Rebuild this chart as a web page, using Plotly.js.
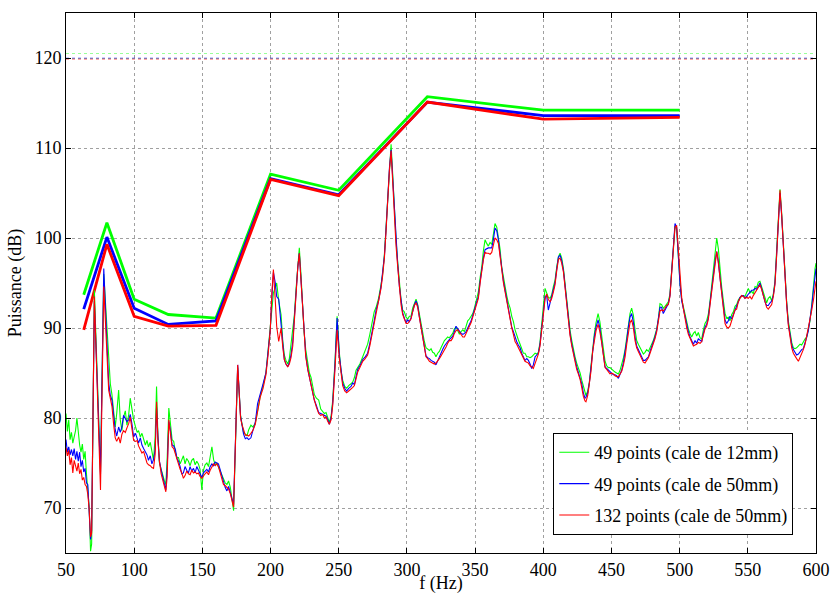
<!DOCTYPE html>
<html>
<head>
<meta charset="utf-8">
<script src="https://cdn.plot.ly/plotly-3.0.1.min.js"></script>
<style>html,body{margin:0;padding:0;background:#fff;}#chart{width:832px;height:594px;}</style>
</head>
<body>
<div id="chart"></div>
<script>
// Third-octave band centres and band levels
const bandCentres = [63, 80, 100, 125, 160, 200, 250, 315, 400, 500];
const bandGreen = [93.7, 101.7, 93.2, 91.5, 91.1, 107.1, 105.3, 115.7, 114.2, 114.2];
const bandBlue  = [92.1, 100.1, 92.2, 90.4, 90.8, 106.6, 104.8, 115.1, 113.6, 113.6];
const bandRed   = [89.8, 99.3, 91.3, 90.2, 90.3, 106.5, 104.7, 115.1, 113.2, 113.4];

// Global levels (dotted lines)
const levelSpan = [50, 600];
const levelGreen = 120.5;
const levelBlue = 120.0;
const levelRed = 119.85;

// Narrow-band spectrum
const freq = [
50,51,52,53,54,55,56,57,58,59,
60,61,62,63,64,65,66,67,68,68.8,
70.8,75.3,77.7,
81.3,82.5,83.7,85.0,86.1,87.2,88.6,89.8,91.0,92.2,
93.5,94.7,96.0,97.1,98.3,99.6,101.0,102.2,103.2,104.5,
105.7,106.9,108.2,109.4,110.5,111.8,113.0,114.2,115.4,
116.4,117.4,118.5,119.8,121.0,122.2,123.2,124.2,125.4,126.6,
127.8,129.0,130.2,131.4,132.5,133.7,134.9,136.1,137.3,138.5,
139.8,141.0,142.2,143.5,144.7,145.9,147.1,148.3,149.6,150.8,
152.0,153.3,154.5,155.7,157.0,158.2,159.4,160.6,161.8,163.0,
164.3,165.5,166.7,168.0,169.2,170.5,171.7,172.9,
175.9,177.0,178.0,179.0,180.2,181.5,182.7,184.0,185.6,187.0,
188.8,190.5,192.4,194.5,196.6,198.2,199.8,
201.0,202.1,203.5,204.5,206.0,207.7,209.0,210.1,211.3,212.6,
213.8,215.0,216.3,217.5,218.8,220.0,221.1,222.3,223.4,224.6,
225.8,227.3,228.5,229.7,230.9,232.1,233.6,235.3,236.8,238.3,
239.5,240.7,242.0,243.1,244.4,245.6,247.3,248.8,250.5,251.7,
252.9,254.4,255.8,257.3,259.0,260.3,261.5,262.7,263.9,265.5,
267.6,269.4,271.2,272.8,274.4,276.0,277.4,279.2,281.0,282.2,
283.5,284.7,285.9,287.2,288.4,289.6,290.8,292.0,293.2,294.5,
295.7,296.9,298.1,299.4,300.6,301.8,303.0,304.2,305.5,306.7,
307.9,309.1,310.3,311.6,312.8,314.0,315.2,316.5,317.7,318.9,
320.1,321.3,322.6,323.8,325.0,326.2,327.5,328.7,329.9,331.1,
332.4,333.6,334.8,336.0,337.3,338.5,339.7,341.0,342.2,343.4,
344.6,345.8,
347.1,348.3,349.5,350.8,352.4,353.7,354.9,356.1,357.3,358.5,
359.7,361.0,362.2,363.4,364.6,365.9,367.1,368.3,369.5,370.8,
372.0,373.2,374.4,375.7,376.9,378.1,379.3,380.5,381.7,383.0,
384.2,385.4,386.6,387.9,389.1,390.3,391.5,392.7,394.0,395.2,
396.4,397.6,398.9,400.1,401.3,402.5,403.7,405.0,406.2,407.4,
408.6,409.9,411.1,412.3,413.5,414.8,416.0,417.2,418.4,419.6,
420.9,422.1,423.3,424.5,425.7,427.0,428.2,429.4,430.6,431.3,
432.6,433.8,435.0,436.2,437.4,438.7,440.2,441.5,442.8,444.0,
445.3,446.5,447.7,448.9,450.2,451.4,452.6,453.8,455.1,456.3,
457.5,458.8,460.0,461.2,462.4,463.6,464.8,466.1,467.3,468.5,
469.7,470.9,472.2,473.4,474.6,475.8,477.1,478.3,479.5,480.7,
481.9,483.2,484.4,485.6,486.8,488.0,489.3,490.5,491.7,492.9,
494.2,495.4,496.6,497.8,499.0,500.3,501.5,502.7,503.9,505.2,
506.4,507.6,508.8,510.1,511.3,512.5,513.7,515.0,516.2,517.4,
518.6,519.8,521.1,522.3,523.5,524.7,525.9,527.2,528.4,529.6,
530.8,532.1,533.3,534.5,535.7,536.9,538.2,539.4,540.6,541.8,
543.0,544.3,545.5,546.7,547.9,549.1,550.4,551.6,552.8,554.0,
555.3,556.5,557.7,558.9,560.1,561.4,562.6,563.8,565.0,566.3,
567.5,568.7,569.9,571.2,572.4,573.6,574.8,576.0,577.3,578.5,
579.7,580.9,582.2,583.4,584.6,585.8,587.1,588.3,589.5,590.7,
592.0,593.2,594.4,595.6,596.9,598.1,599.3,600.0
];

const specGreen = [
80.5,78.5,79.8,77.6,78.4,77.2,77.9,78.6,80.0,78.1,
77.0,76.2,77.1,75.4,76.3,73.8,72.0,70.1,65.2,66.0,
94.2,74.0,96.0,
85.7,83.8,82.6,80.8,79.0,80.5,83.1,79.8,78.6,80.1,
80.8,79.2,80.4,82.2,80.9,79.8,79.0,78.4,78.6,77.9,
78.3,77.6,77.0,77.5,76.8,77.3,76.0,75.3,78.0,
83.5,78.0,75.0,74.3,73.5,73.0,72.6,75.5,81.1,79.5,
77.6,77.4,76.2,75.6,75.6,74.9,75.4,75.8,74.9,75.5,
75.2,74.7,75.3,75.5,74.8,75.2,74.9,74.3,72.0,74.2,
74.8,75.0,74.6,75.5,76.8,75.4,74.8,75.0,74.6,74.1,
73.8,73.3,72.8,72.6,73.0,72.3,71.2,69.7,
85.6,82.5,80.3,79.4,78.4,78.2,78.0,78.7,79.2,79.0,
79.4,80.8,82.4,83.6,85.0,87.5,90.0,
92.5,93.9,94.5,95.0,93.0,91.5,88.5,87.0,86.4,86.0,
86.6,88.0,89.5,91.5,94.5,97.0,98.9,96.0,92.5,89.5,
87.6,85.8,85.0,84.5,83.4,82.6,82.2,82.0,81.0,80.7,
80.5,80.6,80.1,79.5,80.2,82.0,86.4,91.3,87.2,85.2,
84.2,83.5,83.3,83.6,83.8,84.0,84.5,85.3,85.6,86.0,
86.8,87.4,88.2,89.3,90.8,91.8,92.3,93.3,94.8,96.0,
98.2,101.0,104.8,108.0,110.4,107.0,103.2,99.8,97.4,94.8,
93.1,92.0,91.8,91.2,91.0,91.3,91.3,92.2,92.8,93.2,
92.6,91.5,90.4,89.3,88.5,87.8,87.6,87.5,87.7,87.3,
87.2,86.8,87.2,87.4,87.8,88.3,88.6,88.8,89.0,88.9,
89.1,89.4,89.9,90.1,89.7,89.3,89.6,89.8,89.6,90.1,
90.8,91.0,
91.3,91.6,92.2,93.0,94.0,95.6,96.8,98.6,99.8,99.4,
99.1,99.5,99.3,100.4,101.6,101.2,100.2,98.8,96.8,95.5,
94.6,93.6,92.8,92.2,91.3,90.7,89.8,89.1,88.7,88.2,
87.6,87.2,87.2,86.8,86.8,86.7,86.8,87.0,87.2,87.1,
87.3,88.4,90.4,92.4,94.4,93.9,93.4,93.3,93.7,94.6,
95.3,96.8,97.9,98.3,97.8,96.6,94.8,93.0,91.2,89.8,
88.6,87.6,86.8,86.1,85.6,85.0,84.2,83.5,82.9,82.5,
83.0,84.0,85.8,88.0,89.3,90.6,91.6,90.7,89.2,87.6,
86.3,85.8,85.6,85.6,85.4,85.2,85.1,85.0,84.9,85.3,
85.9,86.7,87.6,88.9,90.5,91.6,92.2,91.4,89.8,88.6,
88.2,87.8,87.3,87.1,87.3,87.6,87.4,87.8,88.2,88.6,
89.2,89.9,91.0,92.7,92.6,92.2,92.4,92.6,92.9,93.8,
96.6,99.0,101.3,101.0,97.8,95.0,93.2,92.4,91.4,90.5,
89.9,89.4,89.0,89.4,89.6,89.1,89.5,88.9,88.8,89.8,
90.5,90.8,91.6,93.0,94.6,96.2,98.0,100.0,98.8,96.4,
94.6,93.0,91.6,91.1,91.2,90.8,91.5,91.8,92.4,92.6,
93.1,93.4,93.5,93.6,93.5,93.9,94.4,93.9,94.1,93.8,
94.6,94.5,95.1,95.2,94.6,93.9,93.4,92.8,93.3,93.5,
93.0,93.8,95.2,98.6,102.5,105.4,102.8,99.4,95.6,92.9,
90.8,89.4,88.4,87.8,87.7,87.8,88.0,88.2,88.1,88.5,
88.8,89.0,89.8,90.8,92.6,94.8,96.6,97.2
];

const specBlue = [
77.6,76.2,76.8,75.9,76.5,75.8,76.6,75.4,76.3,75.2,
76.2,74.6,75.3,74.0,74.4,72.8,72.6,69.2,66.5,67.5,
93.0,73.7,96.6,
83.9,82.5,82.0,80.2,78.7,78.0,79.0,78.4,79.0,80.3,
80.0,79.6,79.8,80.4,79.4,77.9,78.3,77.6,77.2,77.8,
77.0,76.6,76.3,75.9,75.3,75.8,74.9,75.4,76.5,
81.2,78.0,75.2,74.2,73.4,72.6,72.0,74.5,79.6,78.6,
77.0,76.9,76.5,75.5,75.2,74.6,73.8,73.9,74.6,74.2,
73.9,74.6,74.1,74.4,73.9,74.6,74.2,73.8,73.4,73.9,
74.1,74.3,74.0,74.6,74.9,74.7,75.1,75.0,74.9,74.3,
73.6,72.9,72.3,71.9,72.4,71.7,71.0,70.4,
85.9,82.6,80.2,79.3,78.2,77.7,77.8,77.6,77.8,78.6,
79.5,81.6,82.8,83.8,85.0,87.5,89.8,
93.5,96.2,95.0,93.5,93.2,90.6,88.0,86.5,86.0,85.7,
86.2,87.0,88.5,91.3,94.0,96.8,98.3,95.5,92.0,89.2,
87.0,85.4,84.6,83.9,83.0,82.0,81.4,80.6,80.5,80.4,
80.3,80.2,79.8,79.3,80.0,81.7,86.1,91.1,86.9,85.0,
83.9,83.3,83.0,83.3,83.5,83.9,83.7,84.6,85.4,85.8,
86.5,86.8,87.2,88.3,89.4,90.8,92.0,93.0,94.6,96.0,
98.0,101.0,104.6,107.8,109.8,106.5,102.8,99.5,97.2,94.6,
92.8,91.7,91.1,90.6,90.9,90.7,91.1,91.9,92.6,93.0,
92.5,91.3,90.2,89.1,88.0,86.9,86.7,86.6,86.4,86.3,
86.2,85.9,86.4,86.9,87.3,87.6,88.0,88.3,88.5,88.7,
88.9,89.1,89.6,90.2,89.9,89.6,89.4,89.3,89.4,89.6,
90.1,90.4,
90.8,91.4,92.0,92.8,93.5,95.2,96.6,97.8,98.7,98.8,
98.9,98.9,98.9,99.8,101.1,100.8,99.8,98.2,96.4,95.2,
94.2,93.1,92.0,91.0,90.1,89.6,88.9,88.5,88.1,87.8,
87.2,86.7,86.4,86.6,86.4,86.0,85.5,85.9,86.8,87.0,
87.2,88.2,90.1,92.0,93.5,93.6,92.0,92.8,93.5,94.3,
95.0,96.6,97.9,98.1,97.5,96.4,94.5,92.7,90.9,89.4,
88.2,87.2,86.5,85.7,85.1,84.6,83.8,82.8,82.2,82.3,
82.8,83.9,85.6,87.9,89.0,90.1,90.9,90.0,88.7,87.1,
85.7,85.5,85.3,85.2,85.0,84.8,84.8,84.7,84.4,84.9,
85.3,86.2,87.2,88.6,90.1,91.2,91.6,90.6,89.0,88.0,
87.6,87.2,86.8,86.4,86.4,86.6,86.8,87.4,87.9,88.4,
89.0,89.8,90.9,92.3,92.3,91.6,92.0,92.4,92.7,93.6,
96.4,98.9,101.6,101.2,97.6,94.8,93.0,92.2,91.1,90.2,
89.6,89.0,88.6,88.2,88.6,88.3,88.8,88.6,88.5,89.4,
90.1,90.4,91.2,92.8,94.4,95.7,97.3,98.5,97.4,95.6,
94.0,92.4,90.9,90.5,90.8,91.3,91.0,91.5,92.0,92.4,
93.0,93.4,93.6,93.6,93.3,93.5,93.8,94.0,94.2,94.2,
94.4,94.3,94.6,95.0,94.4,93.6,92.9,92.5,92.5,92.8,
93.0,93.6,95.0,98.4,102.0,105.0,102.5,99.0,95.3,92.7,
90.5,89.1,88.1,87.6,87.3,87.0,87.1,87.4,87.6,87.7,
88.3,89.0,89.7,90.8,92.4,94.2,95.8,96.6
];

const specRed = [
76.7,75.8,76.4,74.8,75.6,73.9,75.3,74.6,74.1,75.0,
73.8,74.3,73.1,73.4,72.6,72.4,71.5,69.8,66.8,67.2,
93.5,72.0,94.6,
83.1,82.0,81.3,79.2,77.8,77.4,77.9,77.2,78.2,78.6,
78.4,78.9,79.4,80.1,78.8,77.5,77.4,77.5,76.9,76.5,
76.1,76.3,75.6,75.0,74.8,74.7,74.5,74.4,76.0,
81.8,77.5,75.2,73.8,73.0,72.3,71.8,73.5,79.8,78.2,
76.8,76.6,76.0,75.3,74.8,74.3,73.9,73.3,73.6,74.1,
73.8,73.7,74.2,73.9,74.0,73.8,73.9,73.5,73.3,73.6,
73.8,74.0,73.7,74.2,74.6,74.9,74.7,74.9,74.6,74.0,
73.2,72.6,72.5,72.3,72.1,71.6,70.9,70.1,
85.9,82.2,80.0,79.3,78.6,78.1,78.1,78.0,78.3,78.6,
79.3,80.8,82.3,83.3,84.8,87.0,89.8,
94.0,96.5,93.0,90.2,88.5,90.0,87.8,86.5,86.0,85.7,
86.0,86.7,88.0,91.0,94.0,96.8,98.3,95.5,92.0,89.0,
86.8,85.4,84.5,83.8,82.9,82.0,81.2,80.5,80.3,80.4,
80.0,80.1,79.6,79.3,79.8,81.4,85.5,89.8,86.5,84.7,
83.6,83.0,82.8,83.0,83.2,83.4,83.6,84.4,85.1,85.6,
86.3,86.6,87.0,88.0,89.2,90.6,91.7,92.8,94.4,95.8,
97.8,100.8,104.4,107.6,109.7,106.0,102.5,99.2,96.9,94.3,
92.6,91.5,91.0,90.5,90.5,90.8,91.0,91.8,92.5,92.8,
92.3,91.2,90.0,89.0,87.8,86.8,86.6,86.3,86.2,86.1,
86.0,86.1,86.3,86.6,86.9,87.2,87.6,87.9,88.3,88.6,
88.6,88.9,89.4,89.7,89.8,89.5,89.2,89.0,89.0,89.4,
89.8,90.2,
90.6,91.2,91.8,92.5,93.3,95.0,96.4,97.6,98.4,98.3,
98.3,98.2,98.4,99.2,100.0,99.8,99.4,98.0,96.3,95.0,
94.0,93.0,91.8,90.8,90.0,89.3,88.5,88.2,87.8,87.4,
86.9,86.5,86.3,86.2,86.1,85.8,85.7,85.5,86.1,86.6,
87.1,88.0,89.8,91.8,93.2,93.8,93.2,92.9,93.3,94.0,
94.8,96.4,97.6,97.8,97.2,96.2,94.3,92.5,90.7,89.2,
88.0,87.0,86.2,85.4,84.9,84.3,83.4,82.4,81.9,81.8,
82.5,83.6,85.2,87.4,88.6,89.7,90.4,89.6,88.4,86.9,
85.6,85.4,85.2,84.9,85.0,84.9,84.7,84.6,84.6,84.9,
85.2,85.9,86.8,88.2,89.6,90.6,90.9,90.0,88.6,87.8,
87.4,87.0,86.5,86.2,86.1,86.4,86.7,87.2,87.7,88.2,
88.8,89.6,90.7,91.9,92.0,91.9,92.2,92.5,92.6,93.5,
96.2,98.6,101.2,101.4,99.0,95.8,93.4,92.2,91.0,90.0,
89.3,88.8,88.3,88.0,88.1,88.2,88.4,88.3,88.5,89.2,
89.9,90.2,91.0,92.6,94.2,95.5,97.1,98.5,97.2,95.4,
93.7,92.2,90.5,90.1,90.0,90.2,90.8,91.5,92.0,92.1,
92.9,93.3,93.6,93.5,93.3,93.4,93.3,93.5,93.2,93.6,
93.9,94.1,94.5,94.8,94.3,93.5,92.7,92.3,92.1,92.4,
92.6,93.5,94.8,98.2,102.2,105.3,102.6,99.0,95.3,92.6,
90.3,88.9,87.8,87.2,86.8,86.6,86.3,86.7,87.1,87.6,
88.2,89.1,90.0,90.8,92.0,93.1,94.5,95.2
];

const seriesNames = ['49 points (cale de 12mm)', '49 points (cale de 50mm)', '132 points (cale de 50mm)'];
const colors = ['#00ff00', '#0000ff', '#ff0000'];

[specGreen, specBlue, specRed].forEach(function (s, i) {
  if (s.length !== freq.length) {
    throw new Error('length mismatch series ' + i + ': ' + s.length + ' vs ' + freq.length);
  }
});

const specs = [specGreen, specBlue, specRed];
const bands = [bandGreen, bandBlue, bandRed];
const levels = [levelGreen, levelBlue, levelRed];

const traces = [];
levels.forEach(function (lv, i) {
  traces.push({
    x: levelSpan, y: [lv, lv], mode: 'lines', showlegend: false, hoverinfo: 'skip',
    line: {color: colors[i], width: 1, dash: 'dot'}, opacity: 0.4
  });
});
bands.forEach(function (b, i) {
  traces.push({
    x: bandCentres, y: b, mode: 'lines', showlegend: false,
    line: {color: colors[i], width: 2.8}
  });
});
specs.forEach(function (s, i) {
  traces.push({
    x: freq, y: s, mode: 'lines', name: seriesNames[i], legendgroup: 'g' + i,
    line: {color: colors[i], width: 1.1}
  });
});

const fontFam = 'Liberation Serif, DejaVu Serif, serif';
const layout = {
  width: 832, height: 594,
  margin: {l: 66, r: 16, t: 13, b: 41},
  paper_bgcolor: '#ffffff', plot_bgcolor: '#ffffff',
  font: {family: fontFam, size: 18, color: '#000'},
  showlegend: true,
  legend: {
    x: 0.9697, y: 0.0333, xanchor: 'right', yanchor: 'bottom',
    bgcolor: '#ffffff', bordercolor: '#000', borderwidth: 1,
    font: {family: fontFam, size: 18, color: '#000'},
    traceorder: 'grouped', tracegroupgap: 5
  },
  xaxis: {
    range: [50, 600], tick0: 50, dtick: 50, ticks: 'inside', ticklen: 5, tickcolor: '#000',
    showline: true, linecolor: '#000', linewidth: 1, mirror: 'ticks',
    showgrid: true, gridcolor: '#a0a0a0', griddash: 'dot', gridwidth: 1,
    zeroline: false, title: {text: 'f (Hz)', standoff: 3, font: {family: fontFam, size: 18}},
    tickfont: {family: fontFam, size: 18}
  },
  yaxis: {
    range: [65, 125], tick0: 70, dtick: 10, ticks: 'inside', ticklen: 5, tickcolor: '#000',
    showline: true, linecolor: '#000', linewidth: 1, mirror: 'ticks',
    showgrid: true, gridcolor: '#a0a0a0', griddash: 'dot', gridwidth: 1,
    zeroline: false, title: {text: 'Puissance (dB)', standoff: 8, font: {family: fontFam, size: 18}},
    tickfont: {family: fontFam, size: 18}
  }
};

Plotly.newPlot('chart', traces, layout, {displayModeBar: false, staticPlot: true});
</script>
</body>
</html>
